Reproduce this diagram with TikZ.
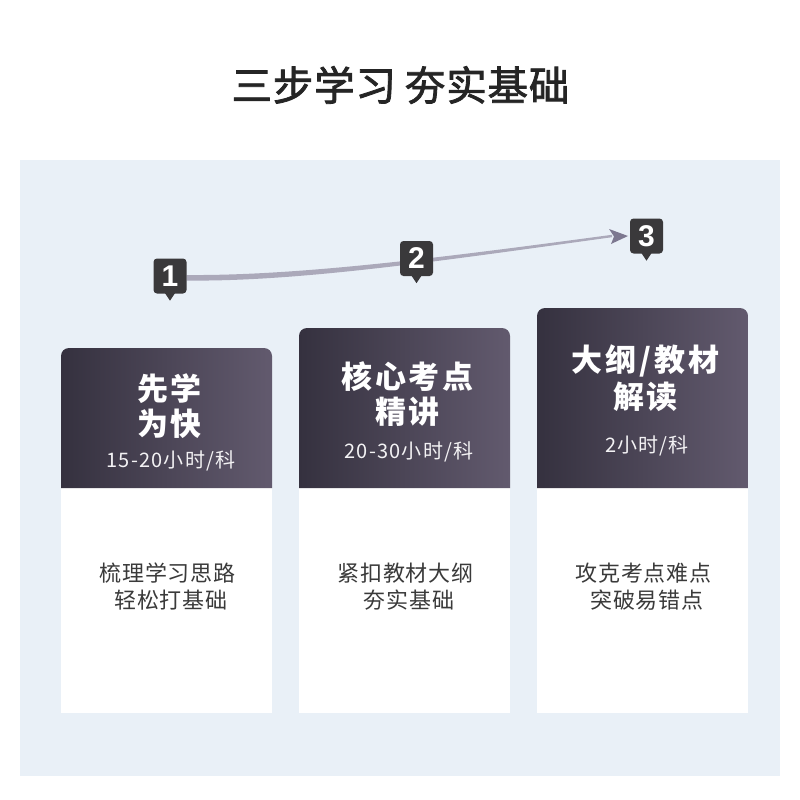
\documentclass[tikz,border=0pt]{standalone}
\usepackage{fontspec}
\setmainfont{Liberation Sans}
\newfontfamily\cjk{Noto Sans CJK SC}
\newfontfamily\cjkt{Noto Sans CJK SC}[FakeBold=2,LetterSpace=2]
\newfontfamily\cjkh{Noto Sans CJK SC}[LetterSpace=9]
\newfontfamily\cjks{Noto Sans CJK SC}[LetterSpace=6]
\newfontfamily\cjkbody{Noto Sans CJK SC}[LetterSpace=4]
\usetikzlibrary{arrows.meta,calc}
\definecolor{panel}{HTML}{E9F0F7}
\definecolor{hdl}{HTML}{35313F}
\definecolor{hdr}{HTML}{625A6E}
\definecolor{badge}{HTML}{3A393B}
\definecolor{titlec}{HTML}{252525}
\definecolor{bodyc}{HTML}{3A3A3A}
\definecolor{arrowc}{HTML}{ABA9BA}
\definecolor{arrowd}{HTML}{7D7890}
\tikzset{
  badgebox/.style={fill=badge, rounded corners=3.5pt, minimum width=33pt, minimum height=35pt, inner sep=0pt, text=white, font=\bfseries\fontsize{30}{30}\selectfont},
  hdtitle/.style={text=white, inner sep=0pt, font=\cjkh\bfseries\fontsize{31}{31}\selectfont},
  hdsub/.style={text=white!92!hdr, inner sep=0pt, font=\cjks\fontsize{20}{20}\selectfont},
  bodytxt/.style={text=bodyc, inner sep=0pt, font=\cjkbody\fontsize{22}{22}\selectfont},
}
\begin{document}
\begin{tikzpicture}[x=1pt,y=-1pt]
\useasboundingbox (0,0) rectangle (800,800);
\fill[white] (0,0) rectangle (800,800);
% title
\node[inner sep=0pt, text=titlec, font=\cjkt\fontsize{40.5}{40.5}\selectfont] (title) at (400.5,85) {三步学习\hspace{9pt}夯实基础};
% panel
\fill[panel] (20,160) rectangle (780,776);
% cards
\foreach \x/\t in {61/348, 299/328, 537/308}{
  \fill[white] (\x,488) rectangle ({\x+211},713);
  \shade[left color=hdl, right color=hdr] (\x,488) {[rounded corners=8pt] -- (\x,\t) -- ({\x+211},\t)} -- ({\x+211},488) -- cycle;
}
% header texts
\node[hdtitle] (c1a) at (169.5,389) {先学};
\node[hdtitle] (c1b) at (169.5,424) {为快};
\node[hdsub] (c1c) at (171,461) {15-20小时/科};
\node[hdtitle] (c2a) at (407.5,377) {核心考点};
\node[hdtitle] (c2b) at (407.5,412) {精讲};
\node[hdsub] (c2c) at (409,452) {20-30小时/科};
\node[hdtitle] (c3a) at (645.5,361) {大纲/教材};
\node[hdtitle] (c3b) at (645.5,397) {解读};
\node[hdsub] (c3c) at (647,446) {2小时/科};
% body texts
\node[bodytxt] (b1a) at (167.5,573) {梳理学习思路};
\node[bodytxt] (b1b) at (171,600) {轻松打基础};
\node[bodytxt] (b2a) at (405.5,573) {紧扣教材大纲};
\node[bodytxt] (b2b) at (409,600) {夯实基础};
\node[bodytxt] (b3a) at (643.5,573) {攻克考点难点};
\node[bodytxt] (b3b) at (647,600) {突破易错点};
% badge anchors for the arrow
\coordinate (p1) at (186.5,278);
\coordinate (p3) at (630,236);
% tapered arrow (drawn under the badges)
\coordinate (ae) at ($(p3)+(-18,0)$);
\fill[arrowc] ($(p1)+(0,-3)$) .. controls (300,276) and (450,256.5) .. ($(ae)+(0,-1.2)$)
  -- ($(ae)+(0,1.2)$) .. controls (450,259.5) and (300,282) .. ($(p1)+(0,2.5)$) -- cycle;
\fill[arrowd] ($(p3)+(-2,0)$) -- ($(p3)+(-21,-7)$) -- ($(p3)+(-16,0.5)$) -- ($(p3)+(-19,8)$) -- cycle;
% badges
\node[badgebox] (n1) at (170,276) {1};
\node[badgebox] (n2) at (416.5,258.5) {2};
\node[badgebox] (n3) at (646.5,236) {3};
\foreach \n in {n1,n2,n3}{
  \fill[badge] ($(\n.south)+(-5,-0.5)$) -- ($(\n.south)+(5,-0.5)$) -- ($(\n.south)+(0,7)$) -- cycle;
}
\end{tikzpicture}
\end{document}
